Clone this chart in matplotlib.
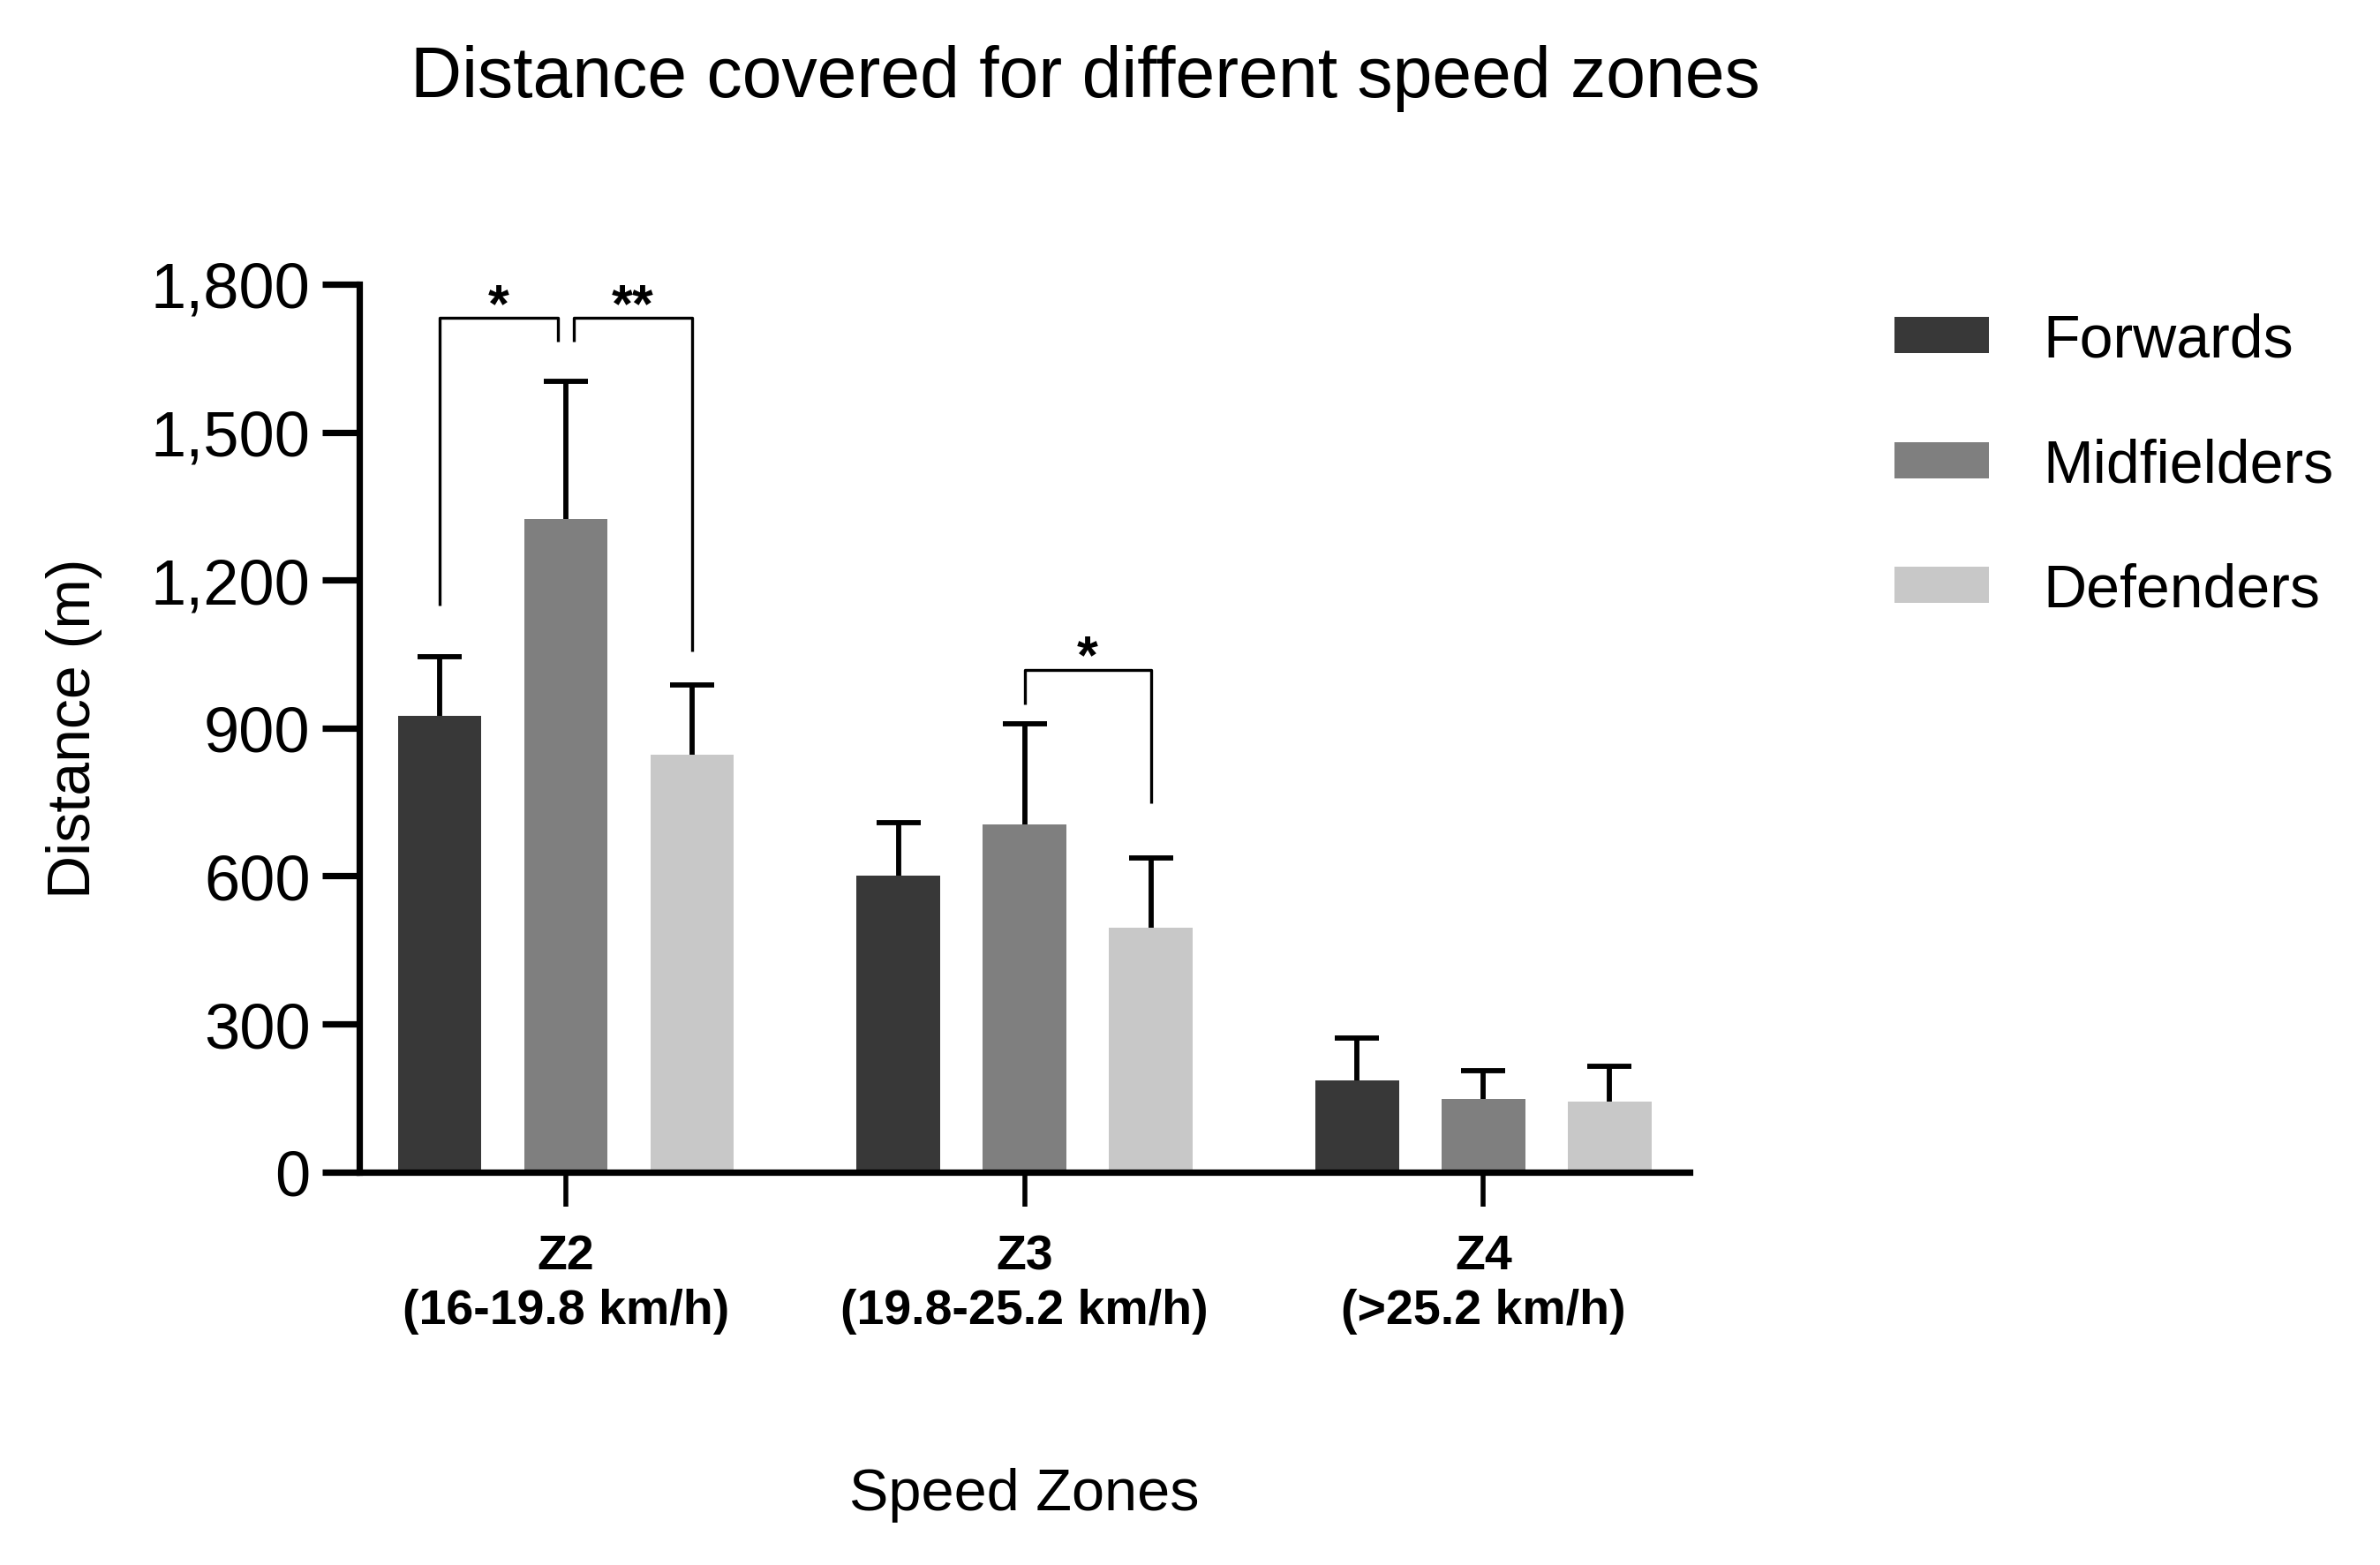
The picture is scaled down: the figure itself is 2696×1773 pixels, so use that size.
import numpy as np
import matplotlib.pyplot as plt

plt.rcParams['font.family'] = ['Liberation Sans', 'DejaVu Sans']

# data
zones = ["Z2\n(16-19.8 km/h)", "Z3\n(19.8-25.2 km/h)", "Z4\n(>25.2 km/h)"]
groups = ["Forwards", "Midfielders", "Defenders"]
colors = ["#383838", "#7f7f7f", "#c8c8c8"]

forwards = [925, 600, 185]
forwards_sd = [120, 108, 86]
midfielders = [1323, 705, 148]
midfielders_sd = [280, 203, 58]
defenders = [846, 495, 142]
defenders_sd = [142, 142, 73]

means = [forwards, midfielders, defenders]
sds = [forwards_sd, midfielders_sd, defenders_sd]

# significance brackets: zone, group a, group b, top, leg a end, leg b end, label
brackets = [
    (0, 0, 1, 1731, 1148, 1683, "*"),
    (0, 1, 2, 1731, 1683, 1055, "**"),
    (1, 1, 2, 1018, 948, 748, "*"),
]

fig = plt.figure(figsize=(13.48, 8.87), dpi=200)
ax = fig.add_axes([0.151, 0.251, 0.559, 0.567])

x = np.arange(len(zones))
off = 0.275
width = 0.182

for i in range(3):
    xi = x + (i - 1) * off
    m = np.array(means[i])
    s = np.array(sds[i])
    ax.bar(xi, m, width, color=colors[i], label=groups[i])
    # upper error bar only, cap on top
    ax.vlines(xi, m, m + s, color="black", lw=2.1)
    ax.plot(xi, m + s, ls="none", marker="_", markersize=18, mew=2.1,
            color="black", clip_on=False)

# brackets
gap = 0.017
for z, a, b, top, ea, eb, lab in brackets:
    xa = z + (a - 1) * off
    xb = z + (b - 1) * off
    # legs meeting at the middle bar are nudged apart
    if a == 1 and z == 0:
        xa += gap
    if b == 1:
        xb -= gap
    ax.plot([xa, xa, xb, xb], [ea, top, top, eb], color="black", lw=1.2,
            clip_on=False, solid_capstyle="butt")
    ax.text((xa + xb) / 2, top - 28, lab, ha="center", va="bottom",
            fontsize=22, fontweight="bold", clip_on=False)

ax.set_xlim(-0.45, 2.45)
ax.set_ylim(0, 1800)
ax.set_yticks(np.arange(0, 1801, 300))
ax.set_yticklabels([f"{v:,}" for v in range(0, 1801, 300)])
ax.set_xticks(x)
ax.set_xticklabels(zones, fontweight="bold", linespacing=1.25)

for s in ["top", "right"]:
    ax.spines[s].set_visible(False)
for s in ["left", "bottom"]:
    ax.spines[s].set_linewidth(2.6)

ax.tick_params(axis="y", length=15, width=2.6, labelsize=26, pad=5)
ax.tick_params(axis="x", length=14, width=2, labelsize=20, pad=11)

fig.text(0.456, 0.950, "Distance covered for different speed zones",
         ha="center", va="center", fontsize=29)
fig.text(0.031, 0.535, "Distance (m)", rotation=90, ha="center", va="center",
         fontsize=24.5)
fig.text(0.4305, 0.045, "Speed Zones", ha="center", va="center", fontsize=24)

fig.legend(loc="upper left", bbox_to_anchor=(0.796, 0.800), frameon=False,
           fontsize=24.5, handlelength=1.57, handleheight=0.55,
           handletextpad=0.9, labelspacing=1.14, borderpad=0, borderaxespad=0)

fig.savefig("out.png", dpi=200)
